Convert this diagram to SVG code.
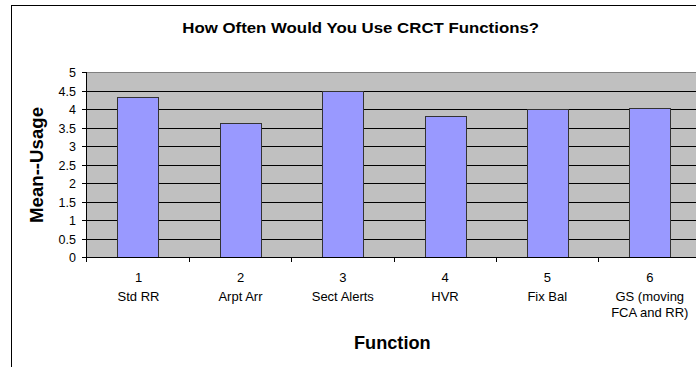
<svg xmlns="http://www.w3.org/2000/svg" width="696" height="367" viewBox="0 0 696 367">
  <style>
    text { font-family: "Liberation Sans", Arial, sans-serif; fill: #000; }
    .title { font-size: 15.5px; font-weight: bold; text-anchor: middle; }
    .axt { font-size: 17.5px; font-weight: bold; text-anchor: middle; }
    .tick { font-size: 12.5px; text-anchor: end; }
    .cat { font-size: 13px; text-anchor: middle; }
    .grid { stroke: #000; stroke-width: 1; fill: none; }
    .bar { fill: #9999FF; stroke: #333; stroke-width: 1; }
    .axis { stroke: #000; stroke-width: 1; fill: none; }
  </style>
  <rect x="0" y="0" width="696" height="367" fill="#fff"/>
  <rect id="chart-border" x="11.5" y="5.5" width="700" height="400" fill="#fff" stroke="#000" stroke-width="1"/>
  <text class="title" x="360.7" y="33.3" textLength="356.7" lengthAdjust="spacingAndGlyphs">How Often Would You Use CRCT Functions?</text>

  <g id="plot-area">
    <rect x="87" y="72.5" width="620" height="185" fill="#C0C0C0"/>
    <line x1="87" y1="72.5" x2="700" y2="72.5" stroke="#808080" stroke-width="1"/>
    <g class="grid">
      <line x1="82" y1="91.5" x2="700" y2="91.5"/>
      <line x1="82" y1="109.5" x2="700" y2="109.5"/>
      <line x1="82" y1="128.5" x2="700" y2="128.5"/>
      <line x1="82" y1="146.5" x2="700" y2="146.5"/>
      <line x1="82" y1="165.5" x2="700" y2="165.5"/>
      <line x1="82" y1="183.5" x2="700" y2="183.5"/>
      <line x1="82" y1="202.5" x2="700" y2="202.5"/>
      <line x1="82" y1="220.5" x2="700" y2="220.5"/>
      <line x1="82" y1="239.5" x2="700" y2="239.5"/>
      <line x1="82" y1="72.5" x2="87" y2="72.5"/>
    </g>
  </g>

  <g id="bars">
    <g id="bar-1"><rect class="bar" x="117.5" y="97.5" width="41" height="160"/></g>
    <g id="bar-2"><rect class="bar" x="220.5" y="123.5" width="41" height="134"/></g>
    <g id="bar-3"><rect class="bar" x="322.5" y="91.5" width="41" height="166"/></g>
    <g id="bar-4"><rect class="bar" x="425.5" y="116.5" width="41" height="141"/></g>
    <g id="bar-5"><rect class="bar" x="527.5" y="109.5" width="41" height="148"/></g>
    <g id="bar-6"><rect class="bar" x="629.5" y="108.5" width="41" height="149"/></g>
  </g>

  <g id="axes" class="axis">
    <line x1="86.5" y1="72.5" x2="86.5" y2="262"/>
    <line x1="82" y1="257.5" x2="700" y2="257.5"/>
    <line x1="189.5" y1="257.5" x2="189.5" y2="262"/>
    <line x1="291.5" y1="257.5" x2="291.5" y2="262"/>
    <line x1="394.5" y1="257.5" x2="394.5" y2="262"/>
    <line x1="496.5" y1="257.5" x2="496.5" y2="262"/>
    <line x1="598.5" y1="257.5" x2="598.5" y2="262"/>
  </g>

  <g id="y-ticks">
    <text class="tick" x="76" y="77">5</text>
    <text class="tick" x="76" y="95.5">4.5</text>
    <text class="tick" x="76" y="114">4</text>
    <text class="tick" x="76" y="132.5">3.5</text>
    <text class="tick" x="76" y="151">3</text>
    <text class="tick" x="76" y="169.5">2.5</text>
    <text class="tick" x="76" y="188">2</text>
    <text class="tick" x="76" y="206.5">1.5</text>
    <text class="tick" x="76" y="225">1</text>
    <text class="tick" x="76" y="243.5">0.5</text>
    <text class="tick" x="76" y="262">0</text>
  </g>

  <g id="x-labels">
    <text class="cat" x="138.5" y="282">1</text>
    <text class="cat" x="138.5" y="300.5">Std RR</text>
    <text class="cat" x="240.5" y="282">2</text>
    <text class="cat" x="240.5" y="300.5">Arpt Arr</text>
    <text class="cat" x="342.8" y="282">3</text>
    <text class="cat" x="342.8" y="300.5">Sect Alerts</text>
    <text class="cat" x="445" y="282">4</text>
    <text class="cat" x="445" y="300.5">HVR</text>
    <text class="cat" x="547.3" y="282">5</text>
    <text class="cat" x="547.3" y="300.5">Fix Bal</text>
    <text class="cat" x="649.8" y="282">6</text>
    <text class="cat" x="649.8" y="300.5">GS (moving</text>
    <text class="cat" x="649.8" y="317">FCA and RR)</text>
  </g>

  <text class="axt" x="392.3" y="349" textLength="76.7" lengthAdjust="spacingAndGlyphs">Function</text>
  <text class="axt" transform="translate(43.3 165) rotate(-90)" x="0" y="0" textLength="116" lengthAdjust="spacingAndGlyphs">Mean--Usage</text>
</svg>
